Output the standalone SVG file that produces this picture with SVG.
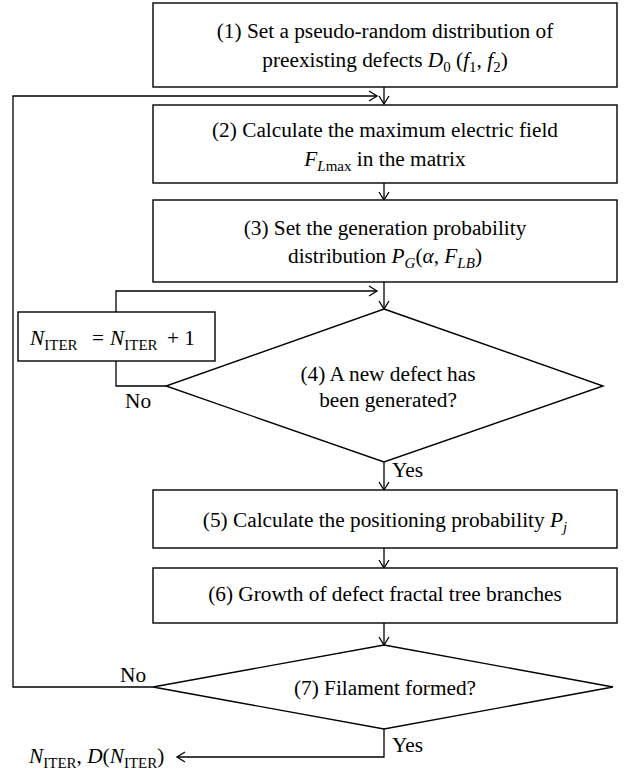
<svg xmlns="http://www.w3.org/2000/svg" width="627" height="771" viewBox="0 0 627 771">
<style>
  .box { fill: #fff; stroke: #000; stroke-width: 1.4; }
  .ln { fill: none; stroke: #000; stroke-width: 1.3; }
  .t { font-family: 'Liberation Serif', Tinos, 'DejaVu Serif', serif; font-size: 21.3px; fill: #000; }
  .c { text-anchor: middle; }
  .i { font-style: italic; }
  .s { font-size: 15px; }
</style>
<defs>
  <marker id="arr" viewBox="-10 -7 12 14" refX="0" refY="0" markerWidth="12" markerHeight="14" markerUnits="userSpaceOnUse" orient="auto">
    <path d="M-8,-5 L0,0 L-8,5" fill="none" stroke="#000" stroke-width="1.3"/>
  </marker>
</defs>
<rect width="627" height="771" fill="#fff"/>

<g id="connectors">
  <line class="ln" x1="384" y1="87" x2="384" y2="104" marker-end="url(#arr)"/>
  <line class="ln" x1="384" y1="183" x2="384" y2="200" marker-end="url(#arr)"/>
  <line class="ln" x1="384" y1="282" x2="384" y2="309" marker-end="url(#arr)"/>
  <polyline class="ln" points="116,312 116,291 377,291" marker-end="url(#arr)"/>
  <polyline class="ln" points="166,386 116,386 116,361"/>
  <line class="ln" x1="384" y1="462" x2="384" y2="490" marker-end="url(#arr)"/>
  <line class="ln" x1="384" y1="548" x2="384" y2="568" marker-end="url(#arr)"/>
  <line class="ln" x1="384" y1="623" x2="384" y2="645" marker-end="url(#arr)"/>
  <polyline class="ln" points="153,687 13,687 13,96 377,96" marker-end="url(#arr)"/>
  <polyline class="ln" points="384,729 384,757 177,757" marker-end="url(#arr)"/>
  <text class="t" x="125" y="408">No</text>
  <text class="t" x="392" y="477">Yes</text>
  <text class="t" x="120" y="682">No</text>
  <text class="t" x="392" y="752">Yes</text>
</g>

<g id="n1">
  <rect class="box" x="153" y="3" width="464" height="84"/>
  <text class="t c" x="385" y="38">(1) Set a pseudo-random distribution of</text>
  <text class="t c" x="385" y="67">preexisting defects <tspan class="i">D</tspan><tspan class="s" dy="5">0</tspan><tspan dy="-5"> (</tspan><tspan class="i">f</tspan><tspan class="s" dy="5">1</tspan><tspan dy="-5">, </tspan><tspan class="i">f</tspan><tspan class="s" dy="5">2</tspan><tspan dy="-5">)</tspan></text>
</g>

<g id="n2">
  <rect class="box" x="153" y="105" width="464" height="78"/>
  <text class="t c" x="385" y="137">(2) Calculate the maximum electric field</text>
  <text class="t c" x="385" y="166"><tspan class="i">F</tspan><tspan class="s i" dy="5">L</tspan><tspan class="s">max</tspan><tspan dy="-5"> in the matrix</tspan></text>
</g>

<g id="n3">
  <rect class="box" x="153" y="200" width="464" height="82"/>
  <text class="t c" x="385" y="235">(3) Set the generation probability</text>
  <text class="t c" x="385" y="263">distribution <tspan class="i">P</tspan><tspan class="s i" dy="5">G</tspan><tspan dy="-5">(</tspan><tspan class="i">α</tspan><tspan>, </tspan><tspan class="i">F</tspan><tspan class="s i" dy="5">LB</tspan><tspan dy="-5">)</tspan></text>
</g>

<g id="n_iter">
  <rect class="box" x="18" y="312" width="197" height="49"/>
  <text class="t" x="30" y="345"><tspan class="i">N</tspan><tspan class="s" dy="5">ITER</tspan><tspan x="92" dy="-5">=</tspan><tspan class="i" x="110">N</tspan><tspan class="s" dy="5">ITER</tspan><tspan x="167" dy="-5">+ 1</tspan></text>
</g>

<g id="n4">
  <polygon class="box" points="384,309 603,386 384,462 166,386"/>
  <text class="t c" x="388" y="381">(4) A new defect has</text>
  <text class="t c" x="388" y="407">been generated?</text>
</g>

<g id="n5">
  <rect class="box" x="153" y="490" width="464" height="58"/>
  <text class="t c" x="385" y="527">(5) Calculate the positioning probability <tspan class="i">P</tspan><tspan class="s i" dy="5">j</tspan></text>
</g>

<g id="n6">
  <rect class="box" x="153" y="568" width="464" height="55"/>
  <text class="t c" x="385" y="601">(6) Growth of defect fractal tree branches</text>
</g>

<g id="n7">
  <polygon class="box" points="384,645 613,687 384,729 153,687"/>
  <text class="t c" x="385" y="695">(7) Filament formed?</text>
</g>

<g id="out">
  <text class="t" x="29" y="763"><tspan class="i">N</tspan><tspan class="s" dy="5">ITER</tspan><tspan dy="-5">, </tspan><tspan class="i">D</tspan><tspan>(</tspan><tspan class="i">N</tspan><tspan class="s" dy="5">ITER</tspan><tspan dy="-5">)</tspan></text>
</g>
</svg>
